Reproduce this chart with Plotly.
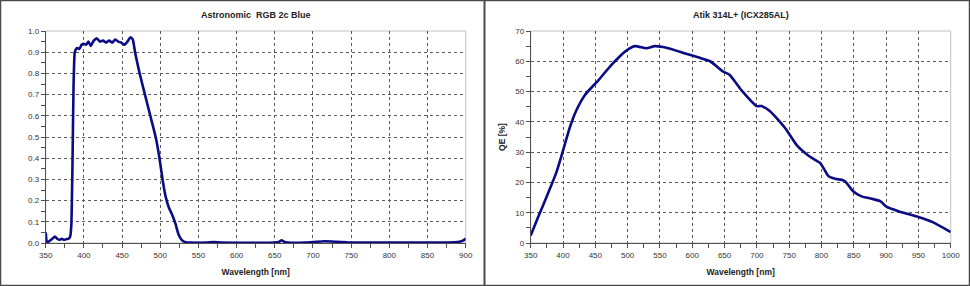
import plotly.graph_objects as go

# ---- data: Astronomic RGB 2c Blue filter transmission ----
filter_wl = [350, 351.5, 353, 357, 362, 365, 368, 371, 374, 377, 380, 382, 383.5, 385, 386.5,
             388, 389, 391, 394, 397, 400, 403, 406, 409, 413, 417, 421, 425, 429, 433, 437,
             441, 445, 449, 453, 457, 461, 464, 467, 473, 480, 487, 494, 499, 503, 507, 511,
             516, 520, 524, 528, 533, 540, 560, 570, 580, 650, 656, 659, 662, 668, 690, 700,
             715, 730, 745, 760, 850, 885, 892, 897, 900]
filter_tr = [0.05, 0.006, 0.005, 0.015, 0.03, 0.02, 0.015, 0.02, 0.015, 0.018, 0.02, 0.03, 0.08,
             0.35, 0.75, 0.90, 0.91, 0.92, 0.915, 0.935, 0.94, 0.935, 0.95, 0.93, 0.955, 0.965,
             0.95, 0.955, 0.945, 0.955, 0.945, 0.96, 0.95, 0.945, 0.935, 0.95, 0.97, 0.96, 0.90,
             0.80, 0.70, 0.60, 0.50, 0.40, 0.30, 0.22, 0.17, 0.13, 0.09, 0.04, 0.015, 0.004,
             0.002, 0.002, 0.004, 0.002, 0.002, 0.006, 0.013, 0.006, 0.002, 0.002, 0.004, 0.008,
             0.006, 0.003, 0.002, 0.002, 0.003, 0.006, 0.012, 0.022]

# ---- data: Atik 314L+ (ICX285AL) quantum efficiency ----
qe_wl = [350, 362, 377, 390, 400, 410, 420, 434, 455, 475, 496, 511, 529, 542, 560, 589, 609,
         627, 648, 658, 676, 700, 707, 720, 744, 762, 780, 798, 803, 811, 821, 834, 839, 849,
         862, 878, 891, 901, 919, 950, 973, 1000]
qe_val = [2.5, 8.8, 16.5, 23.5, 30.5, 37.8, 43.5, 48.9, 53.8, 58.8, 63.2, 65.0, 64.3, 65.0, 64.5,
          62.6, 61.3, 60.1, 56.6, 55.5, 50.5, 45.2, 45.2, 43.6, 37.9, 32.2, 28.8, 26.4, 24.8,
          22.0, 21.2, 20.7, 19.8, 17.1, 15.4, 14.6, 13.8, 11.9, 10.5, 8.6, 6.8, 3.6]

left_xticks = list(range(350, 901, 50))
right_xticks = list(range(350, 1001, 50))
left_yticks = [i / 10 for i in range(0, 11)]
left_ylabels = ["%.1f" % v for v in left_yticks]
right_yticks = list(range(0, 71, 10))
right_ylabels = [str(v) for v in right_yticks]

W, H = 970, 286
LINE = "#0b0b84"
FONT = "Liberation Sans, Arial, sans-serif"
GRID = "#5a5a5a"
AX = "#505050"

fig = go.Figure()
fig.add_trace(go.Scatter(x=filter_wl, y=filter_tr, mode="lines", xaxis="x", yaxis="y",
                         line=dict(color=LINE, width=2.6, shape="spline", smoothing=0.5),
                         hoverinfo="x+y", showlegend=False))
fig.add_trace(go.Scatter(x=qe_wl, y=qe_val, mode="lines", xaxis="x2", yaxis="y2",
                         line=dict(color=LINE, width=2.6, shape="spline", smoothing=0.6),
                         hoverinfo="x+y", showlegend=False))

xl = [45.7 / W, 465.7 / W]
xr = [530.7 / W, 950.7 / W]
yd = [43 / H, 255 / H]

def xax(domain, anchor, rng, ticks):
    return dict(domain=domain, anchor=anchor, range=rng, tickvals=ticks, ticktext=[str(t) for t in ticks],
                showgrid=True, gridcolor=GRID, griddash="dot", gridwidth=1,
                showline=True, linecolor=AX, linewidth=1, zeroline=False,
                ticks="outside", ticklen=4, tickcolor=AX, automargin=False,
                minor=dict(ticks="outside", ticklen=4, dtick=25, tick0=350, tickcolor=AX, showgrid=False),
                tickfont=dict(family=FONT, size=8, color="#333333"),
                title=dict(text="<b>Wavelength [nm]</b>", font=dict(family=FONT, size=8.5, color="#222222"), standoff=10),
                fixedrange=True)

def yax(domain, anchor, rng, ticks, labels, minor, title=None):
    d = dict(domain=domain, anchor=anchor, range=rng, tickvals=ticks, ticktext=labels,
             showgrid=True, gridcolor=GRID, griddash="dot", gridwidth=1,
             showline=True, linecolor=AX, linewidth=1, zeroline=False,
             ticks="outside", ticklen=4, tickcolor=AX, automargin=False,
             minor=dict(ticks="outside", ticklen=4, dtick=minor, tick0=0, tickcolor=AX, showgrid=False),
             tickfont=dict(family=FONT, size=8, color="#333333"), fixedrange=True)
    if title:
        d["title"] = dict(text=title, font=dict(family=FONT, size=8.5, color="#222222"), standoff=8)
    return d

fig.update_layout(
    width=W, height=H, margin=dict(l=0, r=0, t=0, b=0),
    paper_bgcolor="white", plot_bgcolor="white",
    xaxis=xax(xl, "y", [350, 900], left_xticks),
    yaxis=yax(yd, "x", [0, 1.0], left_yticks, left_ylabels, 0.05),
    xaxis2=xax(xr, "y2", [350, 1000], right_xticks),
    yaxis2=yax(yd, "x2", [0, 70], right_yticks, right_ylabels, 5, "<b>QE [%]</b>"),
    annotations=[
        dict(text="<b>Astronomic  RGB 2c Blue</b>", x=(xl[0] + xl[1]) / 2, y=1 - 15 / H, xref="paper", yref="paper",
             xanchor="center", yanchor="middle", showarrow=False, font=dict(family=FONT, size=9, color="#222222")),
        dict(text="<b>Atik 314L+ (ICX285AL)</b>", x=(xr[0] + xr[1]) / 2, y=1 - 15 / H, xref="paper", yref="paper",
             xanchor="center", yanchor="middle", showarrow=False, font=dict(family=FONT, size=9, color="#222222")),
    ],
    shapes=[
        dict(type="rect", xref="x domain", yref="y domain", x0=0, x1=1, y0=0, y1=1,
             line=dict(color="#c0c0c0", width=1), layer="below"),
        dict(type="rect", xref="x2 domain", yref="y2 domain", x0=0, x1=1, y0=0, y1=1,
             line=dict(color="#c0c0c0", width=1), layer="below"),
        dict(type="rect", xref="paper", yref="paper", x0=0.5 / W, x1=1 - 0.5 / W, y0=0.5 / H, y1=1 - 0.5 / H,
             line=dict(color="#4a4a4a", width=1.5)),
        dict(type="line", xref="paper", yref="paper", x0=484.5 / W, x1=484.5 / W, y0=0, y1=1,
             line=dict(color="#4a4a4a", width=2)),
    ],
)

fig.write_html("out.html")
